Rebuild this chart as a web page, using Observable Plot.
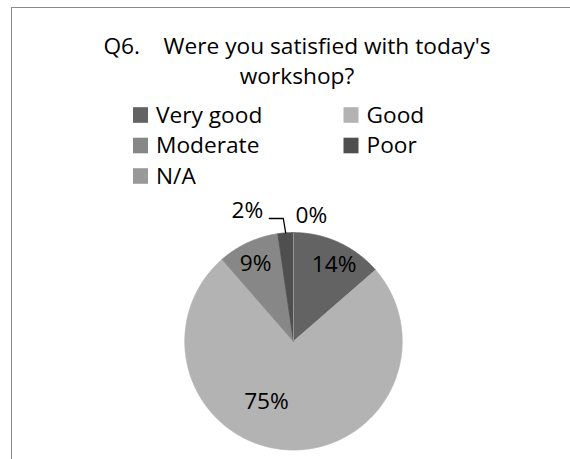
<!DOCTYPE html>
<html><head><meta charset="utf-8">
<script src="https://cdn.jsdelivr.net/npm/d3@7"></script>
<script src="https://cdn.jsdelivr.net/npm/@observablehq/plot@0.6"></script>
<style>
html,body{margin:0;padding:0;background:#fff;}
#wrap{position:relative;width:570px;height:459px;overflow:hidden;background:#fff;}
#border{position:absolute;left:11px;top:7px;right:-5px;bottom:-5px;border-left:1px solid #8a8a8a;border-top:1px solid #8a8a8a;}
#chart{position:absolute;left:0;top:0;}
</style></head><body>
<div id="wrap"><div id="border"></div><div id="chart"></div></div>
<script>
// ---- data ----
const categories = ["Very good", "Good", "Moderate", "Poor", "N/A"];
const values = [13.6, 75.0, 9.1, 2.3, 0];
const colors = ["#636363", "#b3b3b3", "#878787", "#4f4f4f", "#999999"];
const titleLines = ["Q6.\u00a0\u00a0\u00a0 Were you satisfied with today's", "workshop?"];

// ---- layout (not data) ----
const W = 570, H = 459;
const cx = 293, cy = 340.8, R = 108.7;
const FONT = "Open Sans";
const FS = 22.7;
// label placement: angle offset (deg) from slice mid-angle, radius factor
const labelLayout = [
  {da: 3.5, r: 0.795},
  {da: 20.2, r: 0.607},
  {da: -1.5, r: 0.792},
  {da: -15.3, r: 1.276},
  {da: 8.1, r: 1.168}
];

const arcs = d3.pie().sort(null).value(d => d)(values);
const px = (a, r) => cx + r * Math.sin(a);
const py = (a, r) => cy - r * Math.cos(a);

// slice polygons
const slicePts = [];
arcs.forEach((a, i) => {
  const cat = categories[i];
  slicePts.push({cat, x: cx, y: cy});
  const n = Math.max(2, Math.ceil((a.endAngle - a.startAngle) / 0.005));
  for (let k = 0; k <= n; k++) {
    const t = a.startAngle + (a.endAngle - a.startAngle) * k / n;
    slicePts.push({cat, x: px(t, R), y: py(t, R)});
  }
  slicePts.push({cat, x: cx, y: cy});
});

// labels
const labels = arcs.map((a, i) => {
  const mid = (a.startAngle + a.endAngle) / 2 + labelLayout[i].da * Math.PI / 180;
  return {cat: categories[i], text: Math.round(values[i]) + "%", x: px(mid, R * labelLayout[i].r), y: py(mid, R * labelLayout[i].r)};
});

// leader line for the small "Poor" slice
const pi = categories.indexOf("Poor");
const pMid = (arcs[pi].startAngle + arcs[pi].endAngle) / 2;
const lp = labels[pi];
const leader = [
  {x: lp.x + 22, y: lp.y + 8},
  {x: lp.x + 36, y: lp.y + 8},
  {x: px(pMid, R), y: py(pMid, R)}
];

// legend
const legend = categories.map((c, i) => {
  const col = i % 2, row = Math.floor(i / 2);
  const sx = 140.5 + col * 210.5, sy = 115 + row * 30.5;
  return {cat: c, x1: sx - 7.5, x2: sx + 7.5, y1: sy - 7.8, y2: sy + 7.8, tx: sx + 15, ty: sy};
});

const title = titleLines.map((t, i) => ({text: t, x: 296.5, y: 53 + i * 30}));

const chart = Plot.plot({
  width: W, height: H, margin: 0,
  style: {fontFamily: FONT, fontSize: FS + "px", background: "transparent", overflow: "visible"},
  x: {domain: [0, W], range: [0, W], axis: null},
  y: {domain: [0, H], range: [0, H], axis: null},
  color: {domain: categories, range: colors},
  marks: [
    Plot.line(slicePts, {x: "x", y: "y", z: "cat", fill: "cat", stroke: "cat", strokeWidth: 0.8, curve: "linear"}),
    Plot.line(leader, {x: "x", y: "y", stroke: "#000", strokeWidth: 1.3}),
    Plot.text(labels, {x: "x", y: "y", text: "text", fill: "#000", fontSize: FS, lineAnchor: "middle", textAnchor: "middle"}),
    Plot.text(title, {x: "x", y: "y", text: "text", fill: "#000", fontSize: FS, lineAnchor: "bottom", textAnchor: "middle"}),
    Plot.rect(legend, {x1: "x1", x2: "x2", y1: "y1", y2: "y2", fill: "cat"}),
    Plot.text(legend, {x: "tx", y: "ty", text: "cat", fill: "#000", fontSize: FS, lineAnchor: "middle", textAnchor: "start"})
  ]
});
document.getElementById("chart").appendChild(chart);
</script>
</body></html>
